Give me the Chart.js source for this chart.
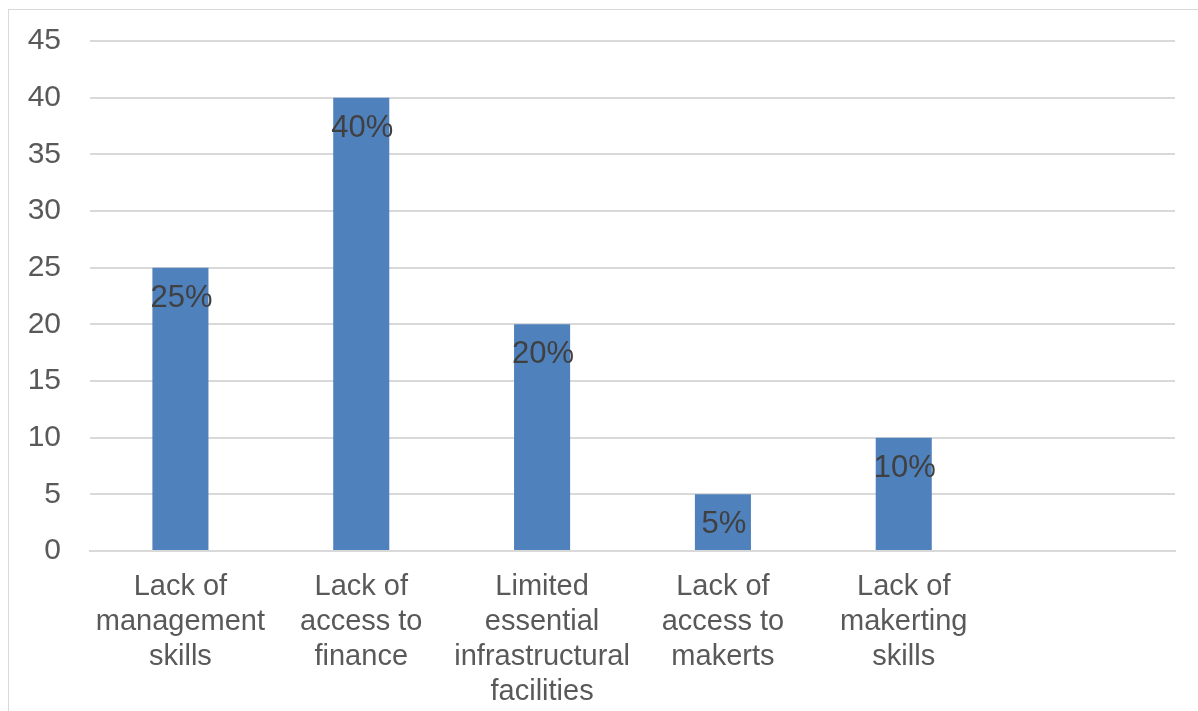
<!DOCTYPE html>
<html>
<head>
<meta charset="utf-8">
<script src="https://cdn.jsdelivr.net/npm/chart.js@4/dist/chart.umd.min.js"></script>
<style>
  html, body { margin: 0; padding: 0; background: #fff; }
  #wrap { position: relative; width: 1198px; height: 711px; }
  #frame { position: absolute; left: 8px; top: 9px; right: -2px; bottom: -2px;
           border-left: 1px solid #d9d9d9; border-top: 1px solid #d9d9d9; }
  canvas { position: absolute; left: 0; top: 0; }
</style>
</head>
<body>
<div id="wrap">
  <div id="frame"></div>
  <canvas id="c" width="1198" height="711"></canvas>
</div>
<script>
const categories = [
  ["Lack of", "management", "skills"],
  ["Lack of", "access to", "finance"],
  ["Limited", "essential", "infrastructural", "facilities"],
  ["Lack of", "access to", "makerts"],
  ["Lack of", "makerting", "skills"],
  ""
];
const shares = [25, 40, 20, 5, 10, null];
const shareLabels = ["25%", "40%", "20%", "5%", "10%", ""];

const FONT = "'Liberation Sans', Arial, sans-serif";

// Writes each bar's percentage just inside its top edge
const barValueText = {
  id: 'barValueText',
  afterDatasetsDraw(chart) {
    const ctx = chart.ctx;
    const meta = chart.getDatasetMeta(0);
    ctx.save();
    ctx.font = "31px " + FONT;
    ctx.fillStyle = "#404040";
    ctx.textAlign = "center";
    ctx.textBaseline = "alphabetic";
    meta.data.forEach((bar, i) => {
      if (shares[i] == null) return;
      ctx.fillText(shareLabels[i], bar.x + 1, bar.y + 39);
    });
    ctx.restore();
  }
};

new Chart(document.getElementById('c'), {
  type: 'bar',
  data: {
    labels: categories,
    datasets: [{
      data: shares,
      backgroundColor: '#4f81bd',
      borderWidth: 0,
      categoryPercentage: 1,
      barPercentage: 0.31
    }]
  },
  options: {
    responsive: false,
    animation: false,
    devicePixelRatio: 1,
    layout: { padding: { left: 0, right: 23, top: 41, bottom: 0 } },
    plugins: { legend: { display: false }, tooltip: { enabled: false } },
    scales: {
      x: {
        grid: { display: false, drawTicks: false },
        border: { display: true, color: '#d9d9d9', width: 2 },
        ticks: {
          color: '#595959',
          font: { family: FONT, size: 29 },
          padding: 19,
          maxRotation: 0,
          autoSkip: false
        },
        afterFit(scale) { scale.height = 160; }
      },
      y: {
        min: 0, max: 45,
        grid: { color: '#d9d9d9', lineWidth: 2, drawTicks: false },
        border: { display: false },
        ticks: {
          stepSize: 5,
          color: '#595959',
          font: { family: FONT, size: 30 },
          padding: 29
        },
        afterFit(scale) {
          scale.width = 90;
          scale.paddingTop = 0;
          scale.paddingBottom = 0;
        }
      }
    }
  },
  plugins: [barValueText]
});
</script>
</body>
</html>
